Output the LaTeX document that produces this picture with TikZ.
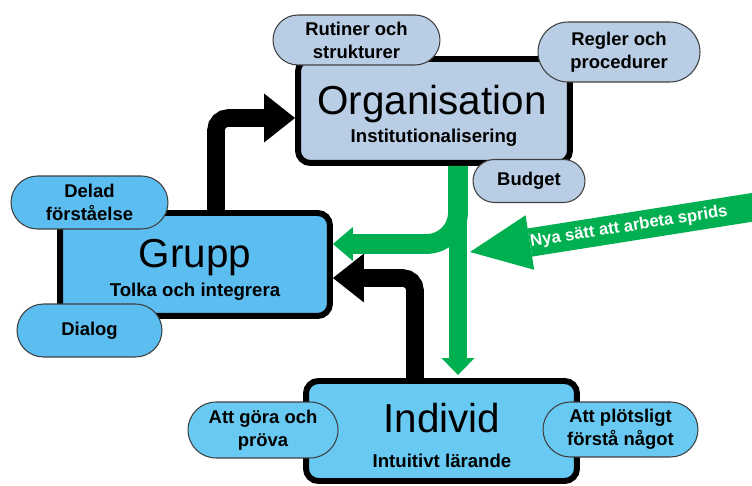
\documentclass[tikz,border=0pt]{standalone}
\usepackage{fontspec}
\setmainfont{Liberation Sans}
\usetikzlibrary{arrows.meta,shapes.misc,calc}
\usepackage{xcolor}

\definecolor{orgfill}{HTML}{B9CDE5}
\definecolor{grpfill}{HTML}{5BBDF0}
\definecolor{indfill}{HTML}{68CAF2}
\definecolor{flowgreen}{HTML}{00B050}
\definecolor{pillline}{HTML}{3F3F3F}

\begin{document}
\begin{tikzpicture}[x=0.02cm,y=-0.02cm,
    level/.style={draw=black, line width=3.4pt, rounded corners=7pt, inner sep=0pt},
    pill/.style={rounded rectangle, draw=pillline, line width=0.6pt, inner sep=0pt,
        align=center, font=\fontsize{10.5}{13}\selectfont\bfseries},
    title/.style={anchor=base, font=\fontsize{23}{27}\selectfont},
    subtitle/.style={anchor=base, font=\fontsize{10.6}{13}\selectfont\bfseries},
    blackflow/.style={draw=black, line width=10pt, rounded corners=7pt,
        -{Triangle[width=27.8pt,length=17.6pt,line width=0pt]}},
    greenflow/.style={draw=flowgreen, line width=10.5pt,
        -{Triangle[width=18.7pt,length=9.6pt,line width=0pt]}},
    branchflow/.style={draw=flowgreen, line width=11.3pt, rounded corners=18pt,
        -{Triangle[width=19.3pt,length=11.3pt,line width=0pt]}}]
        \useasboundingbox (0,0) rectangle (752,486);

        % The three levels
        \node[level, fill=orgfill, minimum width=5.44cm, minimum height=2.08cm] (org) at (434,111) {};
        \node[level, fill=grpfill, minimum width=5.4cm, minimum height=2.06cm] (grupp) at (195,264.5) {};
        \node[level, fill=indfill, minimum width=5.42cm, minimum height=2.0cm] (indiv) at (441.5,431) {};

        % Titles and subtitles
        \node[title] (orgtitle) at (432,115) {Organisation};
        \node[subtitle] (orgsub) at (434,143) {Institutionalisering};
        \node[title] (gruptitle) at (195,268) {Grupp};
        \node[subtitle] (grupsub) at (195,297) {Tolka och integrera};
        \node[title] (indtitle) at (442,433) {Individ};
        \node[subtitle] (indsub) at (442,468) {Intuitivt lärande};

        % Black flows between levels
        \draw[blackflow] ($(grupp.north)+(21,0)$) |- ($(org.west)+(0,7)$);
        \draw[blackflow] ($(indiv.north)+(-26.5,0)$) |- ($(grupp.east)+(0,13.5)$);

        % Green flows from the organisation
        \coordinate (split) at ($(org.south)+(24,0)$);
        \draw[greenflow] (split) -- ($(split |- indiv.north)+(0,-3)$);
        \draw[branchflow] (split) |- ($(grupp.east)+(0,-20.5)$);

        % Incoming arrow with its label
        \coordinate (spreadtail) at (760,206.1);
        \coordinate (spreadhead) at (470,252);
        \draw[draw=flowgreen, line width=16.2pt,
            -{Triangle[width=31.4pt,length=34.5pt,line width=0pt]}] (spreadtail) -- (spreadhead);
        \node[rotate=9, text=white, font=\fontsize{9.5}{11}\selectfont\bfseries] (spreadtext) at (629,227) {Nya sätt att arbeta sprids};

        % Organisation pills
        \node[pill, fill=orgfill, minimum width=3.34cm, minimum height=1.0cm] (rutiner) at (356.5,40) {Rutiner och\\strukturer};
        \node[pill, fill=orgfill, minimum width=3.24cm, minimum height=1.2cm] (regler) at (619,52) {Regler och\\procedurer};
        \node[pill, fill=orgfill, minimum width=2.24cm, minimum height=0.86cm] (budget) at (529,181) {Budget};

        % Grupp pills
        \node[pill, fill=grpfill, minimum width=3.14cm, minimum height=1.06cm] (delad) at (89.5,202.5) {Delad\\förståelse};
        \node[pill, fill=grpfill, minimum width=2.9cm, minimum height=1.06cm] (dialog) at (89.5,330.5) {Dialog};

        % Individ pills
        \node[pill, fill=indfill, minimum width=3.0cm, minimum height=1.12cm] (gora) at (263,430) {Att göra och\\pröva};
        \node[pill, fill=indfill, minimum width=3.1cm, minimum height=1.1cm] (plotsligt) at (620.5,429.5) {Att plötsligt\\förstå något};

\end{tikzpicture}
\end{document}
